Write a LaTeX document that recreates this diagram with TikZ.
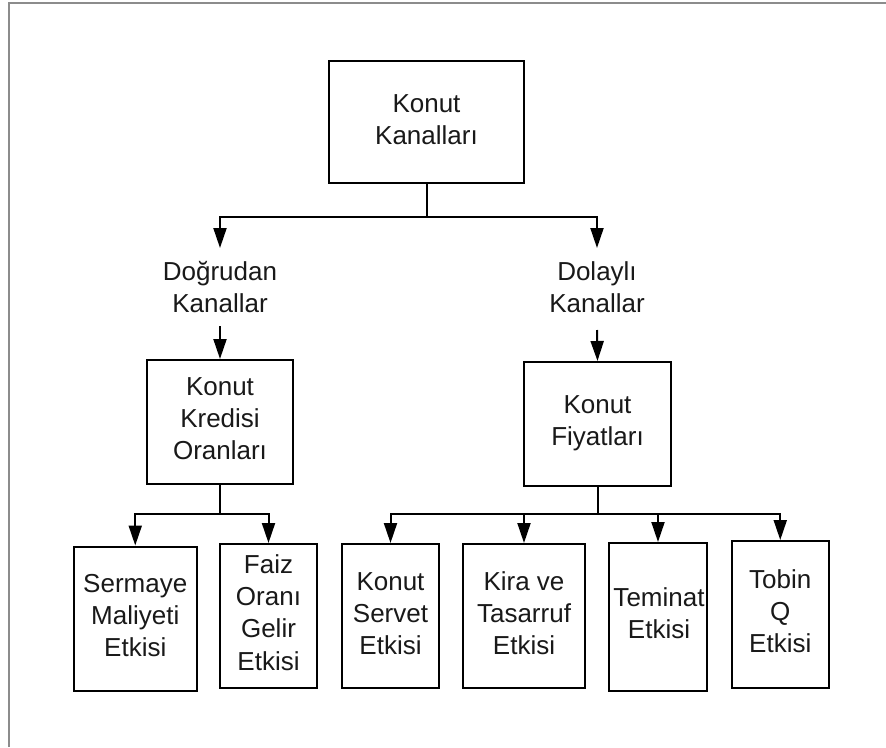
\documentclass[tikz,border=0pt]{standalone}
\usepackage{fontspec}
\setmainfont{Liberation Sans}
\usetikzlibrary{arrows.meta}

% fixed first-line height so that a label's north edge sits a known distance above its first baseline
\newcommand{\firstline}{\rule{0pt}{21pt}}

\tikzset{
  box/.style={draw=black, line width=2pt, rectangle, inner sep=0pt},
  label/.style={font=\fontsize{26pt}{32.3pt}\selectfont, align=center, inner sep=0pt, anchor=north, text=black!90},
  conn/.style={draw=black, line width=2pt},
  arr/.style={conn, -{Triangle[length=20pt, width=13pt]}},
}

\begin{document}
\begin{tikzpicture}[x=1pt, y=-1pt]
  \useasboundingbox (0,0) rectangle (886,747);
  \fill[white] (0,0) rectangle (886,747);

  % page frame (top and left edges)
  \draw[line width=2.5pt, color={rgb,255:red,140;green,140;blue,140}] (9,747) -- (9,3) -- (886,3);

  % boxes
  \node[box, minimum width=195pt, minimum height=122pt] (top) at (426.5,122) {};
  \node[box, minimum width=146pt, minimum height=124pt] (kredi) at (220,422) {};
  \node[box, minimum width=147pt, minimum height=124pt] (fiyat) at (597.5,424) {};
  \node[box, minimum width=122.5pt, minimum height=144.5pt] (sermaye) at (135.25,618.75) {};
  \node[box, minimum width=97pt, minimum height=144pt] (faiz) at (268.5,616) {};
  \node[box, minimum width=97pt, minimum height=144pt] (servet) at (390.5,616) {};
  \node[box, minimum width=122pt, minimum height=144pt] (kira) at (524,616) {};
  \node[box, minimum width=98pt, minimum height=148pt] (teminat) at (658,617) {};
  \node[box, minimum width=97.5pt, minimum height=147pt] (tobin) at (780.25,614.5) {};

  % labels (north = first baseline - 21pt)
  \node[label] (ttop) at (426.5,91) {\firstline Konut\\Kanalları};
  \node[label] (dog) at (220,259) {\firstline Doğrudan\\Kanallar};
  \node[label] (dol) at (597,259) {\firstline Dolaylı\\Kanallar};
  \node[label] (tkredi) at (220,374) {\firstline Konut\\Kredisi\\Oranları};
  \node[label] (tfiyat) at (597.5,392) {\firstline Konut\\Fiyatları};
  \node[label] (tsermaye) at (135.25,571) {\firstline Sermaye\\Maliyeti\\Etkisi};
  \node[label] (tfaiz) at (268.5,552) {\firstline Faiz\\Oranı\\Gelir\\Etkisi};
  \node[label] (tservet) at (390.5,569) {\firstline Konut\\Servet\\Etkisi};
  \node[label] (tkira) at (524,569) {\firstline Kira ve\\Tasarruf\\Etkisi};
  \node[label] (tteminat) at (659,585) {\firstline Teminat\\Etkisi};
  \node[label] (ttobin) at (780.25,567) {\firstline Tobin\\Q\\Etkisi};

  % junction and end points of the connectors
  \coordinate (topj) at (426.5,217);
  \coordinate (dogin) at (220,248);
  \coordinate (dolin) at (597,248);
  \coordinate (dogout) at (220,326);
  \coordinate (dolout) at (597,330);
  \coordinate (krj) at (220,514);
  \coordinate (fij) at (597.5,514);

  % top level split
  \draw[conn] (top.south) -- (topj);
  \draw[arr] (topj) -| (dogin);
  \draw[arr] (topj) -| (dolin);

  % channel labels into their boxes
  \draw[arr] (dogout) -- (kredi.north);
  \draw[arr] (dolout) -- (fiyat.north);

  % direct channel effects
  \draw[conn] (kredi.south) -- (krj);
  \draw[arr] (krj) -| (sermaye.north);
  \draw[arr] (krj) -| (faiz.north);

  % indirect channel effects
  \draw[conn] (fiyat.south) -- (fij);
  \draw[arr] (fij) -| (servet.north);
  \draw[arr] (fij) -| (kira.north);
  \draw[arr] (fij) -| (teminat.north);
  \draw[arr] (fij) -| (tobin.north);
\end{tikzpicture}
\end{document}
